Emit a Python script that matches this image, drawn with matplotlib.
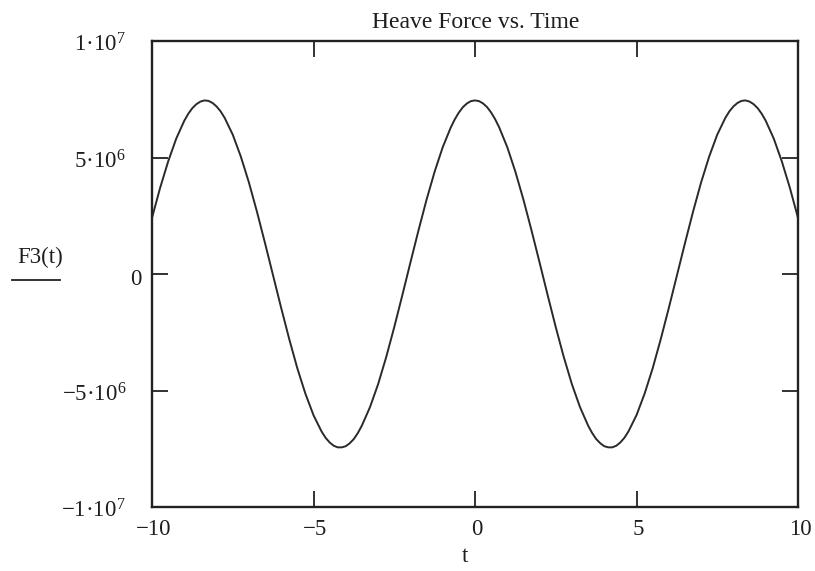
import matplotlib
matplotlib.use("Agg")
import matplotlib.pyplot as plt
from matplotlib.lines import Line2D

plt.rcParams['font.family'] = ['Liberation Serif', 'DejaVu Serif']
plt.rcParams['mathtext.fontset'] = 'custom'
plt.rcParams['mathtext.rm'] = 'Liberation Serif'
plt.rcParams['mathtext.it'] = 'Liberation Serif:italic'

# time samples (s)
t = [-10.0, -9.75, -9.5, -9.25, -9.0, -8.875, -8.75, -8.625, -8.5, -8.375, -8.25, -8.125,
     -8.0, -7.875, -7.75, -7.5, -7.25, -7.0, -6.75, -6.5, -6.25, -6.0, -5.75, -5.5,
     -5.25, -5.0, -4.75, -4.625, -4.5, -4.375, -4.25, -4.125, -4.0, -3.875, -3.75, -3.625,
     -3.5, -3.25, -3.0, -2.75, -2.5, -2.25, -2.0, -1.75, -1.5, -1.25, -1.0, -0.75,
     -0.625, -0.5, -0.375, -0.25, -0.125,
     0.0, 0.125, 0.25, 0.375, 0.5, 0.625, 0.75, 1.0, 1.25, 1.5, 1.75, 2.0,
     2.25, 2.5, 2.75, 3.0, 3.25, 3.5, 3.625, 3.75, 3.875, 4.0, 4.125, 4.25,
     4.375, 4.5, 4.625, 4.75, 5.0, 5.25, 5.5, 5.75, 6.0, 6.25, 6.5, 6.75,
     7.0, 7.25, 7.5, 7.75, 7.875, 8.0, 8.125, 8.25, 8.375, 8.5, 8.625, 8.75,
     8.875, 9.0, 9.25, 9.5, 9.75, 10.0]
# heave force F3(t) in millions
F3_mill = [2.41, 3.69, 4.83, 5.81, 6.58, 6.88, 7.12, 7.29, 7.40, 7.45, 7.43, 7.34,
           7.19, 6.98, 6.70, 5.98, 5.04, 3.93, 2.67, 1.32, -0.07, -1.46, -2.80, -4.05,
           -5.14, -6.06, -6.76, -7.03, -7.23, -7.37, -7.44, -7.44, -7.39, -7.26, -7.08, -6.82,
           -6.50, -5.71, -4.73, -3.57, -2.28, -0.91, 0.49, 1.87, 3.19, 4.39, 5.44, 6.29,
           6.64, 6.93, 7.16, 7.32, 7.42,
           7.45, 7.42, 7.32, 7.16, 6.93, 6.64, 6.29, 5.44, 4.39, 3.19, 1.87, 0.49,
           -0.91, -2.28, -3.57, -4.73, -5.71, -6.50, -6.82, -7.08, -7.26, -7.39, -7.44, -7.44,
           -7.37, -7.23, -7.03, -6.76, -6.06, -5.14, -4.05, -2.80, -1.46, -0.07, 1.32, 2.67,
           3.93, 5.04, 5.98, 6.70, 6.98, 7.19, 7.34, 7.43, 7.45, 7.40, 7.29, 7.12,
           6.88, 6.58, 5.81, 4.83, 3.69, 2.41]
F3 = [v * 1e6 for v in F3_mill]

x_ticks = [-10, -5, 0, 5, 10]
x_tick_labels = ['\u221210', '\u22125', '0', '5', '10']
y_ticks = [-1e7, -5e6, 0, 5e6, 1e7]
y_tick_labels = ['\u22121\u00b710$^{7}$', '\u22125\u00b710$^{6}$', '0', '5\u00b710$^{6}$', '1\u00b710$^{7}$']

W, H = 815, 571
fig = plt.figure(figsize=(W / 100, H / 100), dpi=100)
ax = fig.add_axes([152 / W, 1 - 507 / H, (798 - 152) / W, (507 - 41) / H])

ax.plot(t, F3, color='#2a2a2a', linewidth=1.4)
ax.set_xlim(-10, 10)
ax.set_ylim(-1e7, 1e7)

ax.set_xticks([-5, 0, 5])
ax.set_yticks([-5e6, 0, 5e6])
ax.set_xticklabels([])
ax.set_yticklabels([])
ax.tick_params(direction='in', length=11.5, width=1.3, top=True, right=True, color='#222222')

for s in ax.spines.values():
    s.set_linewidth(1.7)
    s.set_color('#222222')

fs = 16.5
txtc = '#1e1e1e'
px = 72 / 100  # points per pixel
for xv, lab in zip(x_ticks, x_tick_labels):
    ax.annotate(lab, xy=(xv, -1e7), xytext=(2 * px, -28 * px), textcoords='offset points',
                ha='center', va='baseline', fontsize=fs, color=txtc)
for yv, lab in zip(y_ticks, y_tick_labels):
    dx = -10 if lab == '0' else -26
    ax.annotate(lab, xy=(-10, yv), xytext=(dx * px, -11 * px), textcoords='offset points',
                ha='right', va='baseline', fontsize=fs, color=txtc)

fig.text(476 / W, 1 - 28 / H, 'Heave Force vs. Time', ha='center', va='baseline',
         fontsize=17, color=txtc)
fig.text(465 / W, 1 - 562 / H, 't', ha='center', va='baseline', fontsize=fs, color=txtc)

fig.text(40 / W, 1 - 263 / H, 'F3(t)', ha='center', va='baseline', fontsize=fs, color=txtc)
fig.add_artist(Line2D([12 / W, 60 / W], [1 - 280 / H, 1 - 280 / H],
                      transform=fig.transFigure, color='#222222', linewidth=1.3))

fig.savefig('out.png', dpi=100)
